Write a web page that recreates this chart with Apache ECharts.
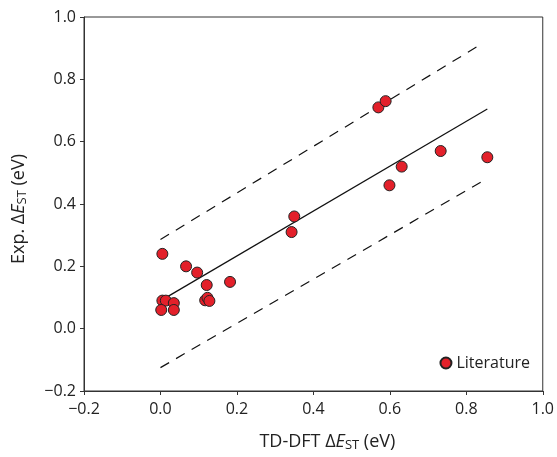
<!DOCTYPE html>
<html>
<head>
<meta charset="utf-8">
<script src="https://cdn.jsdelivr.net/npm/echarts@6/dist/echarts.min.js"></script>
<style>html,body{margin:0;padding:0;background:#fff}#c{width:557px;height:457px}</style>
</head>
<body>
<div id="c"></div>
<script>
const xValues = [0.005, 0.067, 0.096, 0.121, 0.182, 0.005, 0.014, 0.035, 0.002, 0.035, 0.117, 0.123, 0.128, 0.343, 0.350, 0.570, 0.589, 0.599, 0.631, 0.733, 0.855];
const yValues = [0.24, 0.20, 0.18, 0.14, 0.15, 0.09, 0.09, 0.082, 0.06, 0.06, 0.091, 0.099, 0.089, 0.31, 0.36, 0.71, 0.73, 0.46, 0.52, 0.57, 0.55];
const fitX = [0.012, 0.855];
const fitY = [0.098, 0.705];
const upperX = [0.0, 0.835];
const upperY = [0.286, 0.91];
const lowerX = [0.0, 0.848];
const lowerY = [-0.125, 0.477];
const tickLabels = ['\u22120.2', '0.0', '0.2', '0.4', '0.6', '0.8', '1.0'];
const seriesName = 'Literature';

const font = '"Open Sans", "Noto Sans", sans-serif';
function tickFmt(v) {
  const idx = Math.round((v + 0.2) / 0.2);
  return tickLabels[idx] !== undefined ? tickLabels[idx] : '';
}
const pts = xValues.map((x, i) => [x, yValues[i]]);
const zip = (a, b) => a.map((v, i) => [v, b[i]]);

const chart = echarts.init(document.getElementById('c'), null, {renderer: 'canvas'});
const richName = {
  n: {fontSize: 18, color: '#222', fontFamily: font},
  i: {fontSize: 18, color: '#222', fontFamily: font, fontStyle: 'italic'},
  s: {fontSize: 13, color: '#222', fontFamily: font, padding: [8, 0, 0, 0]}
};
chart.setOption({
  animation: false,
  grid: {left: 84, right: 14, top: 17, bottom: 66, show: true, borderColor: '#333', borderWidth: 1},
  xAxis: {
    type: 'value', min: -0.2, max: 1.0, interval: 0.2,
    splitLine: {show: false},
    axisLine: {onZero: false, lineStyle: {color: '#333', width: 1}},
    axisTick: {inside: false, length: 4, lineStyle: {color: '#333'}},
    axisLabel: {formatter: tickFmt, color: '#222', fontSize: 16, fontFamily: font, margin: 10},
    name: '{n|TD-DFT Δ}{i|E}{s|ST}{n| (eV)}',
    nameLocation: 'middle', nameGap: 40,
    nameTextStyle: {rich: richName, padding: [0, 0, 0, 28]}
  },
  yAxis: {
    type: 'value', min: -0.2, max: 1.0, interval: 0.2,
    splitLine: {show: false},
    axisLine: {onZero: false, lineStyle: {color: '#333', width: 1}},
    axisTick: {inside: false, length: 4, lineStyle: {color: '#333'}},
    axisLabel: {formatter: tickFmt, color: '#222', fontSize: 16, fontFamily: font, margin: 8},
    name: '{n|Exp. Δ}{i|E}{s|ST}{n| (eV)}',
    nameLocation: 'middle', nameGap: 55,
    nameTextStyle: {rich: richName, padding: [0, 10, 0, 0]}
  },
  legend: {
    right: 22, top: 350,
    data: [seriesName],
    icon: 'circle', itemWidth: 11, itemHeight: 11, itemGap: 4,
    textStyle: {color: '#222', fontSize: 16, fontFamily: font}
  },
  series: [
    {type: 'line', data: zip(fitX, fitY), symbol: 'none', lineStyle: {color: '#111', width: 1.2}, silent: true, z: 2},
    {type: 'line', data: zip(upperX, upperY), symbol: 'none', lineStyle: {color: '#111', width: 1.2, type: [10, 8]}, silent: true, z: 2},
    {type: 'line', data: zip(lowerX, lowerY), symbol: 'none', lineStyle: {color: '#111', width: 1.2, type: [10, 8]}, silent: true, z: 2},
    {name: seriesName, type: 'scatter', data: pts, symbol: 'circle', symbolSize: 11,
     itemStyle: {color: '#e3202a', borderColor: '#222', borderWidth: 1, opacity: 1}, z: 3}
  ]
});
</script>
</body>
</html>
